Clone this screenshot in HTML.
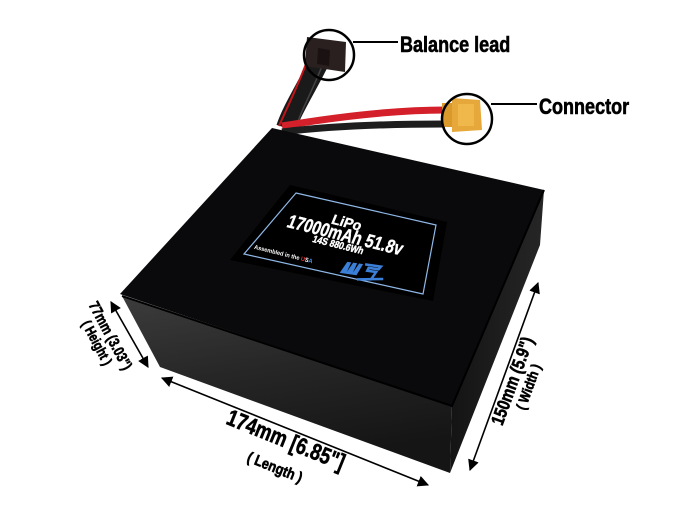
<!DOCTYPE html>
<html><head><meta charset="utf-8"><style>
html,body{margin:0;padding:0;background:#fff;}
svg{display:block;}
text{font-family:"Liberation Sans",sans-serif;font-weight:bold;}
.h{stroke:#000;stroke-width:0.6;}
.w{stroke:#fff;stroke-width:0.4;}
</style></head><body>
<svg width="686" height="511" viewBox="0 0 686 511" xmlns="http://www.w3.org/2000/svg">
<defs>
<linearGradient id="front" x1="0" y1="0" x2="0.3" y2="1">
<stop offset="0" stop-color="#3c3c3c"/><stop offset="0.5" stop-color="#262626"/><stop offset="1" stop-color="#151515"/>
</linearGradient>
<linearGradient id="side" x1="0" y1="0" x2="1" y2="0">
<stop offset="0" stop-color="#141414"/><stop offset="1" stop-color="#262626"/>
</linearGradient>
<marker id="ah" viewBox="0 0 10 10" refX="9" refY="5" markerWidth="7" markerHeight="7" orient="auto-start-reverse">
<path d="M0,0 L10,5 L0,10 Z" fill="#000"/>
</marker>
</defs>

<!-- balance wires -->
<path d="M318,64 C305,90 292,110 286,128" stroke="#1a1a1a" stroke-width="20" fill="none"/>
<path d="M306,64 C296,90 286,110 279,126" stroke="#c0151b" stroke-width="2" fill="none"/>
<path d="M322,66 C312,92 300,112 296,128" stroke="#444" stroke-width="1.5" fill="none"/>
<!-- balance connector -->
<polygon points="307,37 346,42 345,72 305,66" fill="#2a2020"/>
<polygon points="318,48 330,50 329,66 317,64" fill="#1a1212"/>
<!-- power wires -->
<path d="M282,126 C330,118 390,110 445,110" stroke="#d3202a" stroke-width="7" fill="none"/>
<path d="M282,132 C330,126 390,124 445,124" stroke="#1e1e1e" stroke-width="7" fill="none"/>
<!-- XT connector -->
<rect x="442" y="103" width="12" height="24" fill="#d99a2b"/>
<polygon points="452,98 480,100 482,130 452,132" fill="#e6a83a"/>
<rect x="458" y="104" width="16" height="22" fill="#f0b84a"/>

<!-- circles and callouts -->
<circle cx="329" cy="55" r="25" fill="none" stroke="#000" stroke-width="2.5"/>
<line x1="353" y1="42" x2="398" y2="42" stroke="#000" stroke-width="2"/>
<text class="h" x="400" y="52" font-size="22" transform="translate(400,0) scale(0.82,1) translate(-400,0)">Balance lead</text>
<circle cx="467" cy="119" r="25" fill="none" stroke="#000" stroke-width="2.5"/>
<line x1="491" y1="104" x2="537" y2="104" stroke="#000" stroke-width="2"/>
<text class="h" x="539" y="114" font-size="22" transform="translate(539,0) scale(0.82,1) translate(-539,0)">Connector</text>

<!-- box -->
<polygon points="122,296 452,405 450,473 160,367" fill="url(#front)"/>
<polygon points="452,405 544,190 540,245 450,473" fill="url(#side)"/>
<polygon points="272,128 544,190 452,406 120,294" fill="#0a090b"/>
<path d="M122,296 L452,406 L544,190" stroke="#000" stroke-width="2" fill="none"/>

<!-- label -->
<polygon points="290,185 447,222 433,301 230,260" fill="#000"/>
<polygon points="296,193 436,225 423,294 244,254" fill="none" stroke="#8fb8e8" stroke-width="1.2"/>
<text class="w" x="0" y="0" font-size="14" fill="#fff" text-anchor="middle" transform="translate(345,227) rotate(14) skewX(-8)" textLength="30" lengthAdjust="spacingAndGlyphs">LiPo</text>
<text class="w" x="0" y="0" font-size="19" fill="#fff" text-anchor="middle" transform="translate(343,241) rotate(14) skewX(-8)" textLength="118" lengthAdjust="spacingAndGlyphs">17000mAh 51.8v</text>
<text class="w" x="0" y="0" font-size="10" fill="#fff" text-anchor="middle" transform="translate(337,248) rotate(14) skewX(-8)" textLength="52" lengthAdjust="spacingAndGlyphs">14S 880.6Wh</text>
<text x="0" y="0" font-size="6" fill="#fff" text-anchor="middle" transform="translate(283,256) rotate(14)" textLength="60" lengthAdjust="spacingAndGlyphs">Assembled in the <tspan fill="#e33">U</tspan>S<tspan fill="#49f">A</tspan></text>
<g transform="translate(362,272) rotate(8)">
<path d="M-22,4 L-16,-8 L-12,-8 L-15,2 L-10,-8 L-6,-8 L-9,2 L-4,-8 L0,-8 L-5,4 Z" fill="#3b7fd6"/>
<path d="M2,-8 L18,-8 L16,-5 L6,-5 L5,-2 L14,-2 L10,6 L-4,8 L22,4" fill="none" stroke="#3b7fd6" stroke-width="2.5"/>
</g>

<!-- dimension arrows -->
<line x1="111" y1="302" x2="148" y2="367" stroke="#000" stroke-width="1.6" marker-start="url(#ah)" marker-end="url(#ah)"/>
<line x1="162" y1="378" x2="428" y2="485" stroke="#000" stroke-width="1.6" marker-start="url(#ah)" marker-end="url(#ah)"/>
<line x1="538" y1="283" x2="470" y2="470" stroke="#000" stroke-width="1.6" marker-start="url(#ah)" marker-end="url(#ah)"/>

<!-- dimension labels -->
<g transform="translate(106,338) rotate(62)">
<text class="h" x="0" y="0" font-size="15" text-anchor="middle" transform="scale(0.8,1)">77mm (3.03")</text>
<text class="h" x="0" y="15" font-size="14" text-anchor="middle" transform="scale(0.8,1)">( Height )</text>
</g>
<g transform="translate(283,447) rotate(22)">
<text class="h" x="0" y="0" font-size="23" text-anchor="middle" transform="scale(0.8,1)">174mm [6.85"]</text>
</g>
<g transform="translate(273,472) rotate(22)">
<text class="h" x="0" y="0" font-size="15" text-anchor="middle" transform="scale(0.85,1)">( Length )</text>
</g>
<g transform="translate(518,383) rotate(-70)">
<text class="h" x="0" y="0" font-size="18" text-anchor="middle" transform="scale(0.82,1)">150mm (5.9")</text>
<text class="h" x="0" y="16" font-size="14" text-anchor="middle" transform="scale(0.85,1)">( Width )</text>
</g>
</svg>
</body></html>
